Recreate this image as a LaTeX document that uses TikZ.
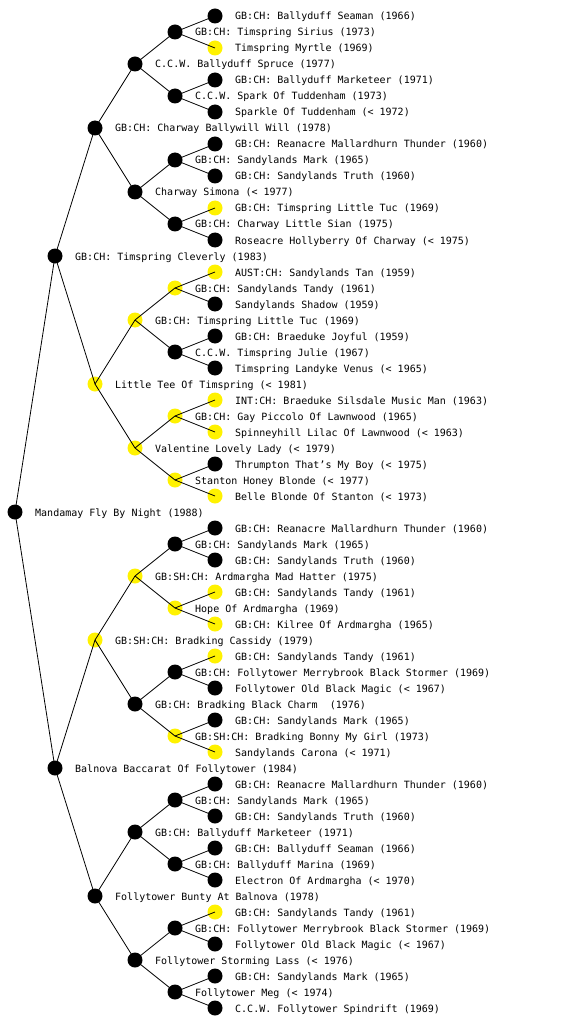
\documentclass[tikz,border=0pt]{standalone}
\usepackage{fontspec}
\setmainfont{DejaVu Sans Mono}
\tikzset{
  dot/.style={circle, inner sep=0pt, minimum size=15pt, draw=none},
  blk/.style={dot, fill=black},
  yel/.style={dot, fill=yellow},
  lbl/.style={anchor=base west, inner sep=0pt, font=\fontsize{10}{12}\selectfont},
  link/.style={draw=black, line width=0.8pt}
}
\newcommand\pn[4]{%
  \pgfmathsetmacro\px{15+40*#1}%
  \pgfmathsetmacro\py{1024/(2^#1)*(#2-0.5)}%
  \node[#3] (n#1-#2) at (\px,\py) {};
  \node[lbl] (t#1-#2) at (\px+20,\py+4) {#4};
}
\begin{document}
\begin{tikzpicture}[x=1pt,y=-1pt]
\useasboundingbox[fill=white] (0,0) rectangle (560,1024);
% level 0
\pn{0}{1}{blk}{Mandamay Fly By Night (1988)}
% level 1
\pn{1}{1}{blk}{GB:CH: Timspring Cleverly (1983)}
\pn{1}{2}{blk}{Balnova Baccarat Of Follytower (1984)}
% level 2
\pn{2}{1}{blk}{GB:CH: Charway Ballywill Will (1978)}
\pn{2}{2}{yel}{Little Tee Of Timspring (< 1981)}
\pn{2}{3}{yel}{GB:SH:CH: Bradking Cassidy (1979)}
\pn{2}{4}{blk}{Follytower Bunty At Balnova (1978)}
% level 3
\pn{3}{1}{blk}{C.C.W. Ballyduff Spruce (1977)}
\pn{3}{2}{blk}{Charway Simona (< 1977)}
\pn{3}{3}{yel}{GB:CH: Timspring Little Tuc (1969)}
\pn{3}{4}{yel}{Valentine Lovely Lady (< 1979)}
\pn{3}{5}{yel}{GB:SH:CH: Ardmargha Mad Hatter (1975)}
\pn{3}{6}{blk}{GB:CH: Bradking Black Charm\ \ (1976)}
\pn{3}{7}{blk}{GB:CH: Ballyduff Marketeer (1971)}
\pn{3}{8}{blk}{Follytower Storming Lass (< 1976)}
% level 4
\pn{4}{1}{blk}{GB:CH: Timspring Sirius (1973)}
\pn{4}{2}{blk}{C.C.W. Spark Of Tuddenham (1973)}
\pn{4}{3}{blk}{GB:CH: Sandylands Mark (1965)}
\pn{4}{4}{blk}{GB:CH: Charway Little Sian (1975)}
\pn{4}{5}{yel}{GB:CH: Sandylands Tandy (1961)}
\pn{4}{6}{blk}{C.C.W. Timspring Julie (1967)}
\pn{4}{7}{yel}{GB:CH: Gay Piccolo Of Lawnwood (1965)}
\pn{4}{8}{yel}{Stanton Honey Blonde (< 1977)}
\pn{4}{9}{blk}{GB:CH: Sandylands Mark (1965)}
\pn{4}{10}{yel}{Hope Of Ardmargha (1969)}
\pn{4}{11}{blk}{GB:CH: Follytower Merrybrook Black Stormer (1969)}
\pn{4}{12}{yel}{GB:SH:CH: Bradking Bonny My Girl (1973)}
\pn{4}{13}{blk}{GB:CH: Sandylands Mark (1965)}
\pn{4}{14}{blk}{GB:CH: Ballyduff Marina (1969)}
\pn{4}{15}{blk}{GB:CH: Follytower Merrybrook Black Stormer (1969)}
\pn{4}{16}{blk}{Follytower Meg (< 1974)}
% level 5
\pn{5}{1}{blk}{GB:CH: Ballyduff Seaman (1966)}
\pn{5}{2}{yel}{Timspring Myrtle (1969)}
\pn{5}{3}{blk}{GB:CH: Ballyduff Marketeer (1971)}
\pn{5}{4}{blk}{Sparkle Of Tuddenham (< 1972)}
\pn{5}{5}{blk}{GB:CH: Reanacre Mallardhurn Thunder (1960)}
\pn{5}{6}{blk}{GB:CH: Sandylands Truth (1960)}
\pn{5}{7}{yel}{GB:CH: Timspring Little Tuc (1969)}
\pn{5}{8}{blk}{Roseacre Hollyberry Of Charway (< 1975)}
\pn{5}{9}{yel}{AUST:CH: Sandylands Tan (1959)}
\pn{5}{10}{blk}{Sandylands Shadow (1959)}
\pn{5}{11}{blk}{GB:CH: Braeduke Joyful (1959)}
\pn{5}{12}{blk}{Timspring Landyke Venus (< 1965)}
\pn{5}{13}{yel}{INT:CH: Braeduke Silsdale Music Man (1963)}
\pn{5}{14}{yel}{Spinneyhill Lilac Of Lawnwood (< 1963)}
\pn{5}{15}{blk}{Thrumpton That's My Boy (< 1975)}
\pn{5}{16}{yel}{Belle Blonde Of Stanton (< 1973)}
\pn{5}{17}{blk}{GB:CH: Reanacre Mallardhurn Thunder (1960)}
\pn{5}{18}{blk}{GB:CH: Sandylands Truth (1960)}
\pn{5}{19}{yel}{GB:CH: Sandylands Tandy (1961)}
\pn{5}{20}{yel}{GB:CH: Kilree Of Ardmargha (1965)}
\pn{5}{21}{yel}{GB:CH: Sandylands Tandy (1961)}
\pn{5}{22}{blk}{Follytower Old Black Magic (< 1967)}
\pn{5}{23}{blk}{GB:CH: Sandylands Mark (1965)}
\pn{5}{24}{yel}{Sandylands Carona (< 1971)}
\pn{5}{25}{blk}{GB:CH: Reanacre Mallardhurn Thunder (1960)}
\pn{5}{26}{blk}{GB:CH: Sandylands Truth (1960)}
\pn{5}{27}{blk}{GB:CH: Ballyduff Seaman (1966)}
\pn{5}{28}{blk}{Electron Of Ardmargha (< 1970)}
\pn{5}{29}{yel}{GB:CH: Sandylands Tandy (1961)}
\pn{5}{30}{blk}{Follytower Old Black Magic (< 1967)}
\pn{5}{31}{blk}{GB:CH: Sandylands Mark (1965)}
\pn{5}{32}{blk}{C.C.W. Follytower Spindrift (1969)}
% connectors
\foreach \l in {1,...,5}{
  \pgfmathtruncatemacro\cnt{2^\l}
  \pgfmathtruncatemacro\pl{\l-1}
  \foreach \i in {1,...,\cnt}{
    \pgfmathtruncatemacro\pp{(\i+1)/2}
    \draw[link] (n\pl-\pp.center) -- (n\l-\i.center);
  }
}
\end{tikzpicture}
\end{document}
